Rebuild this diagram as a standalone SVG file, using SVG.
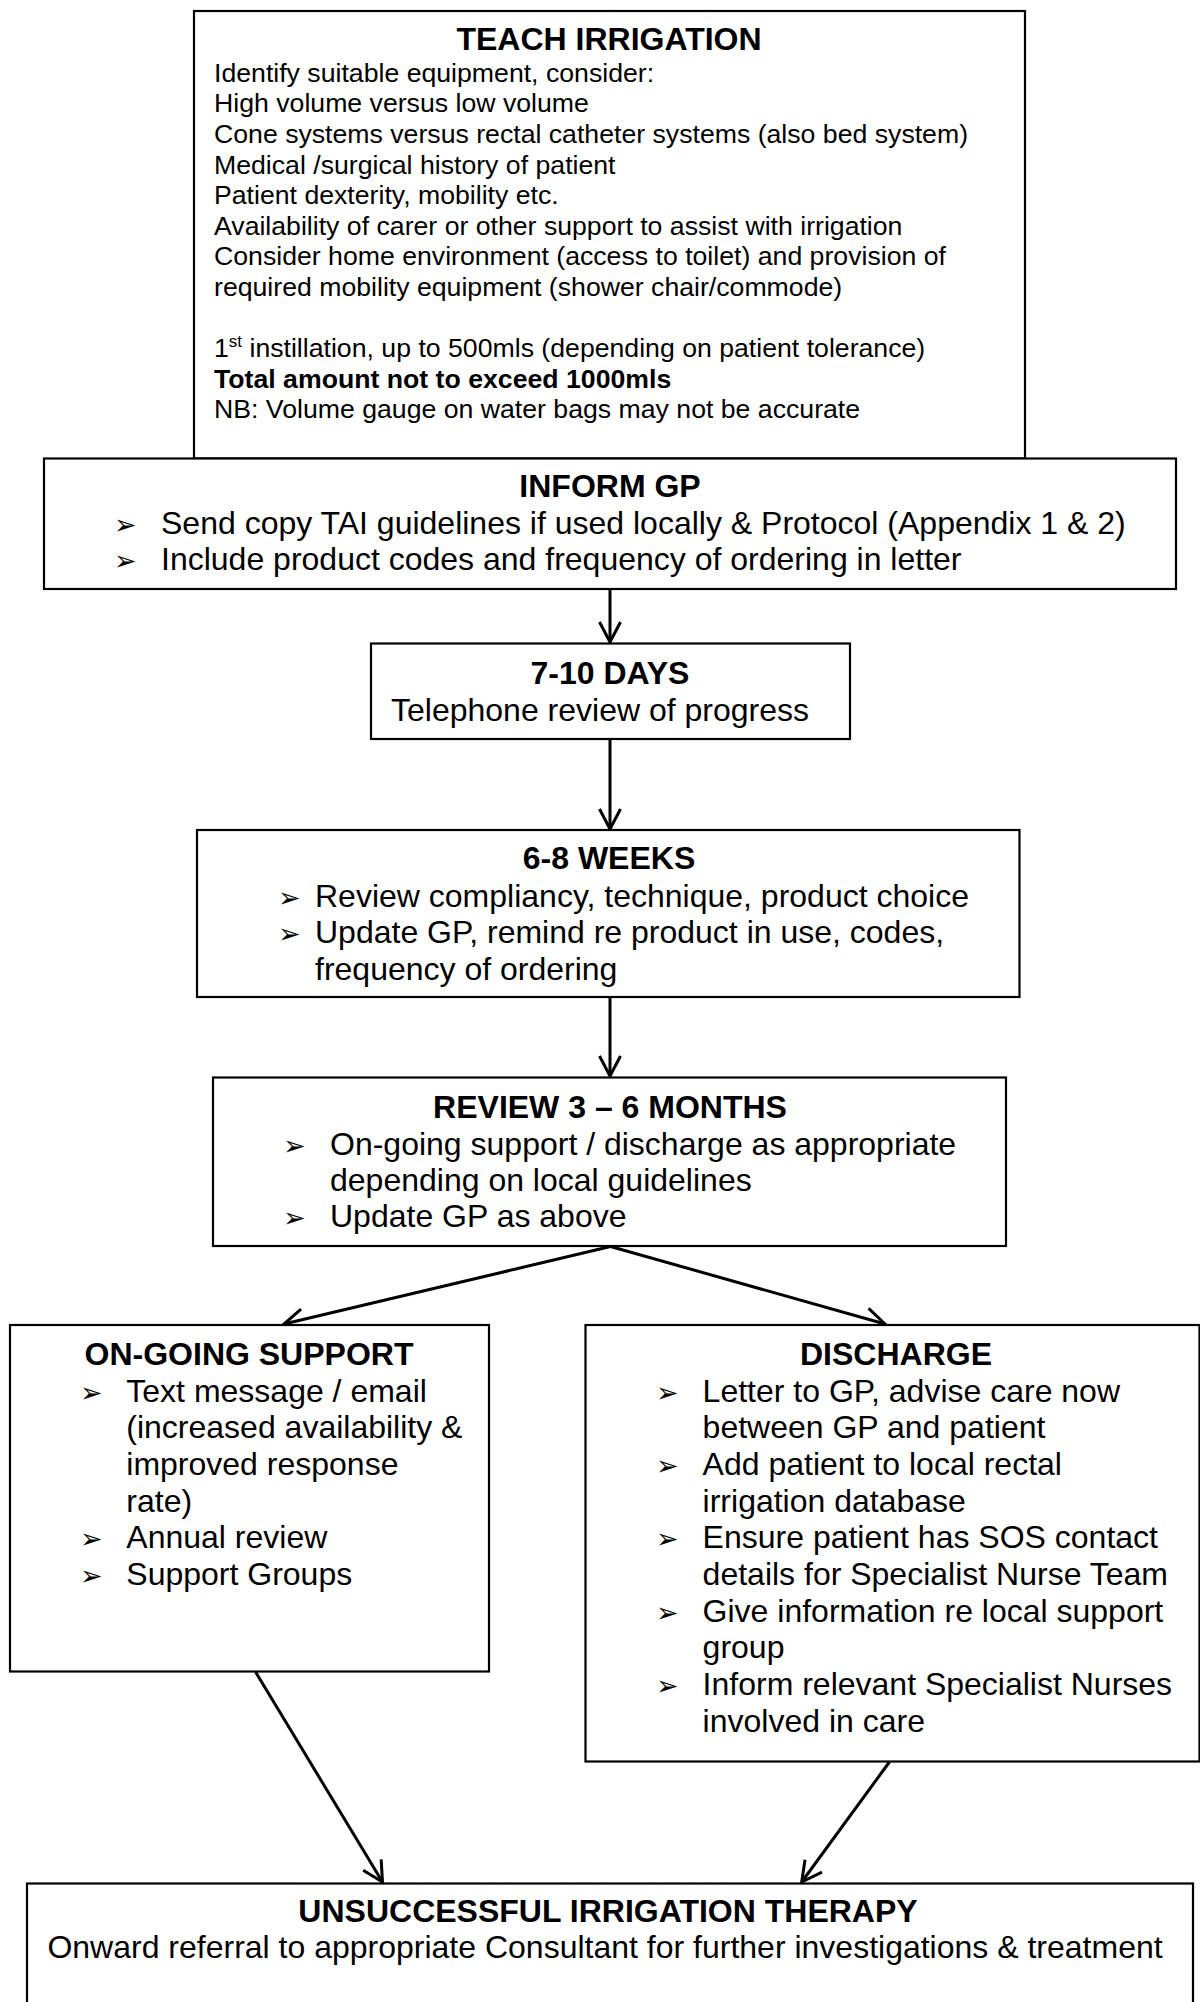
<svg xmlns="http://www.w3.org/2000/svg" width="1200" height="2002" viewBox="0 0 1200 2002">
<style>
.box{fill:#fff;stroke:#000;stroke-width:2.2}
.t{font-family:"Liberation Sans",Arial,sans-serif;font-size:32px;fill:#000}
.h{font-weight:bold;text-anchor:middle}
.s{font-size:26.67px}
.bd{font-weight:bold}
.b{font-family:"DejaVu Sans",sans-serif;font-size:27px;fill:#000}
.conn{stroke:#000;stroke-width:3;fill:none;marker-end:url(#arr)}
</style>
<defs>
<marker id="arr" markerUnits="userSpaceOnUse" markerWidth="30" markerHeight="30" viewBox="-25 -15 30 30" refX="0" refY="0" orient="auto">
<path d="M-20,-10.5 L0,0 L-20,10.5" fill="none" stroke="#000" stroke-width="3"/>
</marker>
</defs>
<rect width="1200" height="2002" fill="#fff"/>
<g id="connectors">
<line class="conn" x1="610" y1="589.5" x2="610" y2="642"/>
<line class="conn" x1="610" y1="739.5" x2="610" y2="829"/>
<line class="conn" x1="610" y1="997.5" x2="610" y2="1076"/>
<line class="conn" x1="610.5" y1="1246.5" x2="284" y2="1324"/>
<line class="conn" x1="610.5" y1="1246.5" x2="885" y2="1324"/>
<line class="conn" x1="255.6" y1="1672" x2="382.5" y2="1882"/>
<line class="conn" x1="889.4" y1="1762" x2="801.7" y2="1882"/>
</g>
<g id="teach">
<rect class="box" x="194" y="11" width="831" height="447.5"/>
<text class="t h" x="609" y="50">TEACH IRRIGATION</text>
<text class="t s" x="214" y="81.7">Identify suitable equipment, consider:</text>
<text class="t s" x="214" y="112.3">High volume versus low volume</text>
<text class="t s" x="214" y="142.9">Cone systems versus rectal catheter systems (also bed system)</text>
<text class="t s" x="214" y="173.5">Medical /surgical history of patient</text>
<text class="t s" x="214" y="204.1">Patient dexterity, mobility etc.</text>
<text class="t s" x="214" y="234.7">Availability of carer or other support to assist with irrigation</text>
<text class="t s" x="214" y="265.3">Consider home environment (access to toilet) and provision of</text>
<text class="t s" x="214" y="295.9">required mobility equipment (shower chair/commode)</text>
<text class="t s" x="214" y="357.1">1<tspan font-size="17px" dy="-10">st</tspan><tspan dy="10"> instillation, up to 500mls (depending on patient tolerance)</tspan></text>
<text class="t s bd" x="214" y="387.7">Total amount not to exceed 1000mls</text>
<text class="t s" x="214" y="418.3">NB: Volume gauge on water bags may not be accurate</text>
</g>
<g id="inform-gp">
<rect class="box" x="44" y="458.5" width="1132" height="130.5"/>
<text class="t h" x="610" y="497">INFORM GP</text>
<text class="b" x="114" y="534">➢</text>
<text class="t" x="161" y="534">Send copy TAI guidelines if used locally &amp; Protocol (Appendix 1 &amp; 2)</text>
<text class="b" x="114" y="570">➢</text>
<text class="t" x="161" y="570">Include product codes and frequency of ordering in letter</text>
</g>
<g id="days-7-10">
<rect class="box" x="371" y="643.5" width="479" height="95.5"/>
<text class="t h" x="610" y="684">7-10 DAYS</text>
<text class="t" x="391" y="721">Telephone review of progress</text>
</g>
<g id="weeks-6-8">
<rect class="box" x="197" y="830" width="822.5" height="167"/>
<text class="t h" x="609" y="868.5">6-8 WEEKS</text>
<text class="b" x="278" y="906.5">➢</text>
<text class="t" x="315" y="906.5">Review compliancy, technique, product choice</text>
<text class="b" x="278" y="943">➢</text>
<text class="t" x="315" y="943">Update GP, remind re product in use, codes,</text>
<text class="t" x="315" y="979.5">frequency of ordering</text>
</g>
<g id="review-3-6">
<rect class="box" x="213" y="1077.5" width="793" height="168.5"/>
<text class="t h" x="610" y="1117.5">REVIEW 3 – 6 MONTHS</text>
<text class="b" x="283" y="1155">➢</text>
<text class="t" x="330" y="1155">On-going support / discharge as appropriate</text>
<text class="t" x="330" y="1191">depending on local guidelines</text>
<text class="b" x="283" y="1227">➢</text>
<text class="t" x="330" y="1227">Update GP as above</text>
</g>
<g id="ongoing-support">
<rect class="box" x="10" y="1325" width="479" height="346.5"/>
<text class="t h" x="249" y="1365">ON-GOING SUPPORT</text>
<text class="b" x="80" y="1401.7">➢</text>
<text class="t" x="126.3" y="1401.7">Text message / email</text>
<text class="t" x="126.3" y="1438.3">(increased availability &amp;</text>
<text class="t" x="126.3" y="1475">improved response</text>
<text class="t" x="126.3" y="1511.7">rate)</text>
<text class="b" x="80" y="1548.3">➢</text>
<text class="t" x="126.3" y="1548.3">Annual review</text>
<text class="b" x="80" y="1585">➢</text>
<text class="t" x="126.3" y="1585">Support Groups</text>
</g>
<g id="discharge">
<rect class="box" x="585.5" y="1325" width="614" height="436.5"/>
<text class="t h" x="896" y="1365">DISCHARGE</text>
<text class="b" x="656" y="1401.7">➢</text>
<text class="t" x="702.6" y="1401.7">Letter to GP, advise care now</text>
<text class="t" x="702.6" y="1438.3">between GP and patient</text>
<text class="b" x="656" y="1475">➢</text>
<text class="t" x="702.6" y="1475">Add patient to local rectal</text>
<text class="t" x="702.6" y="1511.7">irrigation database</text>
<text class="b" x="656" y="1548.3">➢</text>
<text class="t" x="702.6" y="1548.3">Ensure patient has SOS contact</text>
<text class="t" x="702.6" y="1585">details for Specialist Nurse Team</text>
<text class="b" x="656" y="1621.7">➢</text>
<text class="t" x="702.6" y="1621.7">Give information re local support</text>
<text class="t" x="702.6" y="1658.3">group</text>
<text class="b" x="656" y="1695">➢</text>
<text class="t" x="702.6" y="1695">Inform relevant Specialist Nurses</text>
<text class="t" x="702.6" y="1731.7">involved in care</text>
</g>
<g id="unsuccessful">
<rect class="box" x="27" y="1883.5" width="1166" height="130"/>
<text class="t h" x="608" y="1921.7">UNSUCCESSFUL IRRIGATION THERAPY</text>
<text class="t" x="47.4" y="1958.3">Onward referral to appropriate Consultant for further investigations &amp; treatment</text>
</g>
</svg>
